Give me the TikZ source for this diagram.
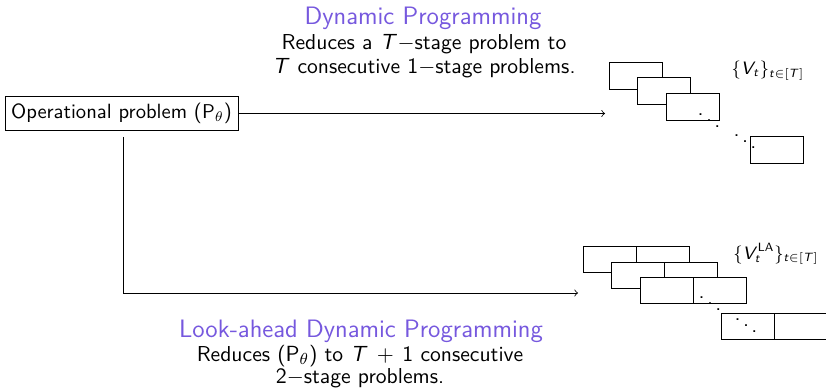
\documentclass[tikz,border=0pt]{standalone}
\usepackage{amsmath,amssymb}
\definecolor{dpc}{RGB}{118,88,222}
\DeclareMathAlphabet{\mathsfit}{OT1}{cmss}{m}{sl}
\newcommand{\mi}[1]{\mathsfit{#1}}
\begin{document}
\begin{tikzpicture}[x=0.5pt,y=-0.5pt,
  every node/.style={font=\sffamily\fontsize{10.8}{12.5}\selectfont},
  cell/.style={draw, fill=white, minimum width=26.5pt, minimum height=13.5pt, inner sep=0pt, line width=0.4pt},
  cellb/.style={draw, fill=white, minimum width=26.5pt, minimum height=13pt, inner sep=0pt, line width=0.4pt},
  conn/.style={->, line width=0.4pt},
  txt/.style={anchor=base, inner sep=0pt},
  ttl/.style={txt, text=dpc, font=\sffamily\fontsize{12.6}{14}\selectfont},
  lbl/.style={inner sep=0pt, font=\sffamily\fontsize{9.2}{11}\selectfont},
  dd/.style={inner sep=0pt}]
\useasboundingbox (0,0) rectangle (826,390);
% main box
\node[draw, line width=0.4pt, minimum width=116.5pt, minimum height=17pt, inner sep=0pt, font=\sffamily\fontsize{10.3}{12}\selectfont] (op) at (121.5,113.5) {Operational problem ($\mathsf{P}_\theta$)};
% top rectangles
\node[cell] (r1) at (635.5,75.5) {};
\node[cell] (r2) at (664,91) {};
\node[cell] (r3) at (692.5,106.5) {};
\node[cell] (r4) at (776.5,150) {};
\node[dd] (d1) at (709,115) {$\ddots$};
\node[dd] (d2) at (745,136) {$\ddots$};
\node[lbl] (vl) at (768,71) {$\{\mi{V}_{\mi{t}}\}_{\mi{t}\in[\mi{T}]}$};
% bottom rectangles
\node[cellb] (a1) at (609.5,259) {};
\node[cellb] (a2) at (662.5,259) {};
\node[cellb] (b1) at (637.5,275) {};
\node[cellb] (b2) at (690.5,275) {};
\node[cellb] (c1) at (666.5,290) {};
\node[cellb] (c2) at (719.5,290) {};
\node[cellb] (e1) at (747.5,326) {};
\node[cellb] (e2) at (800.5,326) {};
\node[dd] (d3) at (710,298) {$\ddots$};
\node[dd] (d4) at (746,320) {$\ddots$};
\node[lbl] (vla) at (776,254) {$\{\mi{V}_{\mi{t}}^{\mathsf{LA}}\}_{\mi{t}\in[\mi{T}]}$};
% connectors
\coordinate (dpend) at (605,113.5);
\coordinate (vs) at (123,137);
\coordinate (laend) at (578,293);
\draw[conn] (op.east) -- (dpend);
\draw[conn] (vs) |- (laend);
% texts
\node[ttl] (t1) at (423,25) {Dynamic Programming};
\node[txt] (t2) at (424,50) {Reduces a $\mi{T}-$stage problem to};
\node[txt] (t3) at (424,74) {$\mi{T}$ consecutive $\mathsf{1}-$stage problems.};
\node[ttl] (b1t) at (361,337) {Look-ahead Dynamic Programming};
\node[txt] (b2t) at (360,361) {Reduces ($\mathsf{P}_\theta$) to $\mi{T}\,+\,\mathsf{1}$ consecutive};
\node[txt] (b3t) at (360,384) {$\mathsf{2}-$stage problems.};
\end{tikzpicture}
\end{document}
